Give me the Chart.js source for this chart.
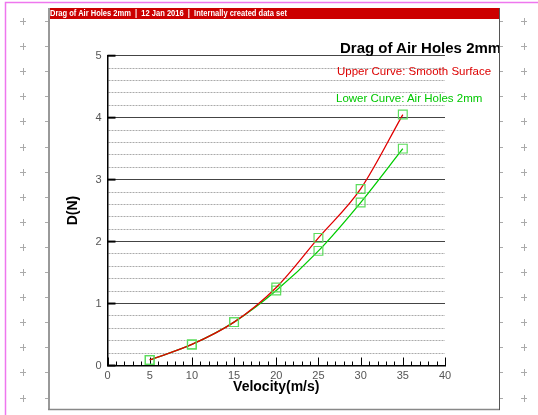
<!DOCTYPE html>
<html><head><meta charset="utf-8">
<script src="https://cdn.jsdelivr.net/npm/chart.js@4/dist/chart.umd.min.js"></script>
<style>
html,body{margin:0;padding:0;background:#fff;}
#wrap{position:relative;width:538px;height:415px;overflow:hidden;font-family:"Liberation Sans",Arial,sans-serif;}
#c{position:absolute;left:0;top:0;}
.t{position:absolute;white-space:nowrap;}
#hdr{left:50px;top:8px;height:11px;line-height:11px;color:#fff;font-weight:bold;font-size:9px;transform-origin:0 50%;}
#clip{position:absolute;left:300px;top:36px;width:199px;height:24px;overflow:hidden;}
#title{left:40px;top:4px;line-height:15px;font-weight:bold;font-size:15px;color:#000;}
#up{left:337px;top:66.3px;line-height:11.5px;color:#dd0000;font-size:11.5px;}
#lo{left:336px;top:93px;line-height:11.5px;color:#00c800;font-size:11.5px;}
</style></head>
<body>
<div id="wrap">
<canvas id="c" width="538" height="415"></canvas>
<div class="t" id="hdr">Drag of Air Holes 2mm &nbsp;|&nbsp; 12 Jan 2016 &nbsp;|&nbsp; Internally created data set</div>
<div id="clip"><div class="t" id="title">Drag of Air Holes 2mm</div></div>
<div class="t" id="up">Upper Curve: Smooth Surface</div>
<div class="t" id="lo">Lower Curve: Air Holes 2mm</div>
</div>
<script>
// ---- data ----
const velocity = [5, 10, 15, 20, 25, 30, 35];
const smoothSurface = [0.09, 0.34, 0.70, 1.26, 2.06, 2.85, 4.05];
const airHoles2mm = [0.09, 0.34, 0.70, 1.21, 1.85, 2.63, 3.50];
const xTickValues = [0, 5, 10, 15, 20, 25, 30, 35, 40];
const yTickValues = [0, 1, 2, 3, 4, 5];

// fit header text width
(function(){
  const h = document.getElementById('hdr');
  const w = h.getBoundingClientRect().width;
  h.style.transform = 'scaleX(' + (237 / w) + ')';
})();

const FONT = '"Liberation Sans", Arial, sans-serif';
const isInt = v => Math.abs(v - Math.round(v)) < 1e-6;

const decor = {
  id: 'decor',
  beforeDraw(chart) {
    const c = chart.ctx;
    c.save();
    c.fillStyle = '#fff';
    c.fillRect(0, 0, 538, 415);
    // pink page border
    c.strokeStyle = '#ee77ee';
    c.lineWidth = 1.5;
    c.beginPath(); c.moveTo(5.5, 415); c.lineTo(5.5, 2.5); c.lineTo(538, 2.5); c.stroke();
    // plus marks and frame ticks
    c.strokeStyle = '#aaaaaa';
    c.lineWidth = 1;
    for (let k = 0; k < 16; k++) {
      const y = Math.round(21 + 25.1 * k) + 0.5;
      [23, 524].forEach(x => {
        c.beginPath();
        c.moveTo(x - 3, y); c.lineTo(x + 3, y);
        c.moveTo(x + 0.5, y - 3.5); c.lineTo(x + 0.5, y + 3.5);
        c.stroke();
      });
      c.beginPath();
      c.moveTo(45, y); c.lineTo(49, y);
      c.moveTo(500, y); c.lineTo(503, y);
      c.stroke();
    }
    // frame
    c.fillStyle = '#cc0000';
    c.fillRect(49, 8, 450, 11);
    c.strokeStyle = '#999';
    c.lineWidth = 2;
    c.beginPath(); c.moveTo(49, 8); c.lineTo(49, 410); c.stroke();
    c.strokeStyle = '#888';
    c.lineWidth = 1.5;
    c.beginPath(); c.moveTo(48, 409.5); c.lineTo(500, 409.5); c.stroke();
    c.strokeStyle = '#555';
    c.lineWidth = 1;
    c.beginPath(); c.moveTo(499.5, 8); c.lineTo(499.5, 410); c.stroke();
    c.restore();
  }
};

const axisTicks = {
  id: 'axisTicks',
  beforeDatasetsDraw(chart) {
    const xs = chart.scales.x, ys = chart.scales.y, c = chart.ctx;
    const y0 = ys.getPixelForValue(0), x0 = xs.getPixelForValue(0);
    c.save();
    c.strokeStyle = '#000';
    c.lineWidth = 1;
    for (let v = xs.min; v <= xs.max; v++) {
      const px = Math.round(xs.getPixelForValue(v)) + 0.5;
      const len = (v % 5 === 0) ? 8 : 4;
      c.beginPath(); c.moveTo(px, y0); c.lineTo(px, y0 - len); c.stroke();
    }
    c.lineWidth = 2;
    yTickValues.forEach(v => {
      const py = ys.getPixelForValue(v);
      c.beginPath(); c.moveTo(x0, py); c.lineTo(x0 + 8, py); c.stroke();
    });
    c.restore();
  }
};

const mk = (ys, color) => ({
  data: velocity.map((x, i) => ({x: x, y: ys[i]})),
  borderColor: color,
  borderWidth: 1.3,
  cubicInterpolationMode: 'monotone',
  pointStyle: 'rect',
  pointRadius: 6.2,
  pointBorderColor: '#5cdc5c',
  pointBackgroundColor: 'rgba(0,0,0,0)',
  pointBorderWidth: 1.2,
  fill: false
});

new Chart(document.getElementById('c'), {
  type: 'line',
  data: {
    datasets: [
      Object.assign({label: 'Upper Curve: Smooth Surface'}, mk(smoothSurface, '#e00000')),
      Object.assign({label: 'Lower Curve: Air Holes 2mm'}, mk(airHoles2mm, '#00cc00'))
    ]
  },
  options: {
    responsive: false,
    animation: false,
    devicePixelRatio: 1,
    layout: {padding: {left: 0, top: 55.7, right: 93, bottom: 0}},
    plugins: {legend: {display: false}, tooltip: {enabled: false}},
    scales: {
      x: {
        type: 'linear', min: 0, max: 40,
        afterBuildTicks: s => { s.ticks = xTickValues.map(v => ({value: v})); },
        ticks: {color: '#555', font: {family: FONT, size: 11}, padding: 4, maxRotation: 0, autoSkip: false},
        grid: {display: false, drawTicks: false},
        border: {color: '#000', width: 1.5},
        title: {display: true, text: 'Velocity(m/s)', color: '#000', font: {family: FONT, size: 14, weight: 'bold'}, padding: {top: 0, bottom: 19.6}},
        afterFit: s => { s.height = 49.5; }
      },
      y: {
        type: 'linear', min: 0, max: 5,
        ticks: {stepSize: 0.2, autoSkip: false, color: '#555', font: {family: FONT, size: 11}, padding: 6,
          callback: v => (isInt(v) && yTickValues.includes(Math.round(v))) ? String(Math.round(v)) : ''},
        grid: {drawTicks: false, lineWidth: 1,
          color: c => (c.tick && isInt(c.tick.value)) ? '#444' : '#aaa'},
        border: {color: '#000', width: 1.5,
          dash: c => (c.tick && !isInt(c.tick.value)) ? [2, 1] : []},
        title: {display: true, text: 'D(N)', color: '#000', font: {family: FONT, size: 14, weight: 'bold'}, padding: {top: 64.6, bottom: 0}},
        afterFit: s => { s.width = 107.5; }
      }
    }
  },
  plugins: [decor, axisTicks]
});
</script>
</body></html>
